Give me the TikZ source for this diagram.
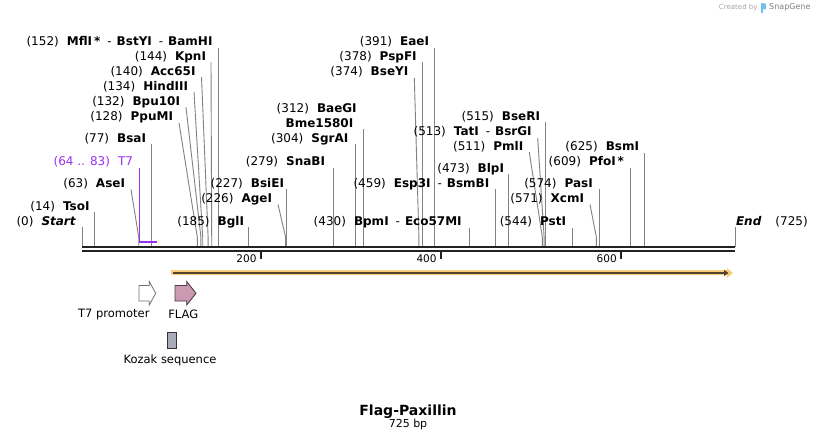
\documentclass[tikz,border=0pt]{standalone}
\usepackage{fontspec}
\setmainfont{DejaVu Sans}
\usetikzlibrary{arrows.meta,positioning}
\definecolor{cutgray}{RGB}{130,130,130}
\definecolor{seqdark}{RGB}{34,34,34}
\definecolor{primerpurple}{RGB}{155,48,240}
\definecolor{orforange}{RGB}{250,205,125}
\definecolor{orfdark}{RGB}{85,68,45}
\definecolor{flagpink}{RGB}{204,153,179}
\definecolor{flagedge}{RGB}{80,60,70}
\definecolor{kozakgray}{RGB}{168,172,182}
\definecolor{logoblue}{RGB}{110,190,240}
\newcommand{\labgap}{\hspace{8pt}}
\newcommand{\cutdash}{\hspace{7pt}-\hspace{5pt}}
\tikzset{
  enz/.style={font=\fontsize{12}{14}\selectfont, inner sep=0pt, outer sep=0pt, anchor=east, text height=9pt, text depth=2pt},
  cutline/.style={draw=cutgray, line width=0.9pt},
  seqline/.style={draw=seqdark, line width=2.5pt},
  tickline/.style={draw=seqdark, line width=2pt},
  ticklabel/.style={font=\fontsize{10.5}{12}\selectfont, inner sep=0pt, anchor=east},
  featlabel/.style={font=\fontsize{11.5}{13}\selectfont, inner sep=0pt},
  orfband/.style={draw=orforange, line width=5pt, -{Triangle[length=6pt,width=9.5pt]}},
  orfcore/.style={draw=orfdark, line width=1.8pt, -{Triangle[length=4.5pt,width=6pt]}},
  promoter/.style={draw=black!55, fill=white, line width=0.8pt},
  flagtag/.style={draw=flagedge, fill=flagpink, line width=0.9pt},
  kozak/.style={draw=black!80, fill=kozakgray, line width=0.9pt}
}
\begin{document}
\begin{tikzpicture}[x=1pt, y=-1pt]
  \path[fill=white, use as bounding box] (0,0) rectangle (818,443);

  % enzyme sites, left to right
  \coordinate (s0) at (82,247);
  \node[enz] (start) at (76,221.7) {(0)\labgap\textbf{\textit{Start}}};
  \draw[cutline] (s0) -- (s0 |- start.south);

  \coordinate (s14) at (94.6,247);
  \node[enz] (tsoI) at (89.5,206.7) {(14)\labgap\textbf{TsoI}};
  \draw[cutline] (s14) -- (s14 |- tsoI.south);

  \coordinate (s63) at (138.7,247);
  \node[enz] (aseI) at (125,184) {(63)\labgap\textbf{AseI}};
  \draw[cutline] ([xshift=6pt]aseI.south east) -- ([yshift=10pt]s63) -- (s63);

  \coordinate (s77) at (151.4,247);
  \node[enz] (bsaI) at (146,139) {(77)\labgap\textbf{BsaI}};
  \draw[cutline] (s77) -- (s77 |- bsaI.south);

  \coordinate (s128) at (197.3,247);
  \node[enz] (ppuMI) at (173,117.3) {(128)\labgap\textbf{PpuMI}};
  \draw[cutline] ([xshift=6pt]ppuMI.south east) -- ([yshift=10pt]s128) -- (s128);

  \coordinate (s132) at (200.9,247);
  \node[enz] (bpu10I) at (180,101.7) {(132)\labgap\textbf{Bpu10I}};
  \draw[cutline] ([xshift=6pt]bpu10I.south east) -- ([yshift=10pt]s132) -- (s132);

  \coordinate (s134) at (202.7,247);
  \node[enz] (hindIII) at (188,86.7) {(134)\labgap\textbf{HindIII}};
  \draw[cutline] ([xshift=6pt]hindIII.south east) -- ([yshift=10pt]s134) -- (s134);

  \coordinate (s140) at (208.1,247);
  \node[enz] (acc65I) at (195.5,71.7) {(140)\labgap\textbf{Acc65I}};
  \draw[cutline] ([xshift=6pt]acc65I.south east) -- ([yshift=10pt]s140) -- (s140);

  \coordinate (s144) at (211.7,247);
  \node[enz] (kpnI) at (206,56.7) {(144)\labgap\textbf{KpnI}};
  \draw[cutline] ([xshift=5pt]kpnI.south east) -- ([yshift=10pt]s144) -- (s144);

  \coordinate (s152) at (218.9,247);
  \node[enz] (mflI) at (212.5,42.3) {(152)\labgap\textbf{MflI\,*}\cutdash\textbf{BstYI}\cutdash\textbf{BamHI}};
  \draw[cutline] (s152) -- (s152 |- mflI.south);

  \coordinate (s185) at (248.6,247);
  \node[enz] (bglI) at (244,221.7) {(185)\labgap\textbf{BglI}};
  \draw[cutline] (s185) -- (s185 |- bglI.south);

  \coordinate (s226) at (285.6,247);
  \node[enz] (ageI) at (272,199) {(226)\labgap\textbf{AgeI}};
  \draw[cutline] ([xshift=6pt]ageI.south east) -- ([yshift=10pt]s226) -- (s226);

  \coordinate (s227) at (286.5,247);
  \node[enz] (bsiEI) at (284,184) {(227)\labgap\textbf{BsiEI}};
  \draw[cutline] (s227) -- (s227 |- bsiEI.south);

  \coordinate (s279) at (333.3,247);
  \node[enz] (snaBI) at (325,162.3) {(279)\labgap\textbf{SnaBI}};
  \draw[cutline] (s279) -- (s279 |- snaBI.south);

  \coordinate (s304) at (355.8,247);
  \node[enz] (sgrAI) at (348.3,139) {(304)\labgap\textbf{SgrAI}};
  \draw[cutline] (s304) -- (s304 |- sgrAI.south);

  \coordinate (s312) at (363,247);
  \node[enz] (baeGI) at (356.7,109) {(312)\labgap\textbf{BaeGI}};
  \node[enz] (bme1580I) at (353.3,124) {\textbf{Bme1580I}};
  \draw[cutline] (s312) -- (s312 |- bme1580I.south);

  \coordinate (s374) at (418.9,247);
  \node[enz] (bseYI) at (408.3,72.3) {(374)\labgap\textbf{BseYI}};
  \draw[cutline] ([xshift=6pt]bseYI.south east) -- ([yshift=10pt]s374) -- (s374);

  \coordinate (s378) at (422.5,247);
  \node[enz] (pspFI) at (416.7,56.7) {(378)\labgap\textbf{PspFI}};
  \draw[cutline] (s378) -- (s378 |- pspFI.south);

  \coordinate (s391) at (434.2,247);
  \node[enz] (eaeI) at (429,42.3) {(391)\labgap\textbf{EaeI}};
  \draw[cutline] (s391) -- (s391 |- eaeI.south);

  \coordinate (s430) at (469.3,247);
  \node[enz] (bpmI) at (461.7,222.3) {(430)\labgap\textbf{BpmI}\cutdash\textbf{Eco57MI}};
  \draw[cutline] (s430) -- (s430 |- bpmI.south);

  \coordinate (s459) at (495.4,247);
  \node[enz] (esp3I) at (489.3,184) {(459)\labgap\textbf{Esp3I}\cutdash\textbf{BsmBI}};
  \draw[cutline] (s459) -- (s459 |- esp3I.south);

  \coordinate (s473) at (508,247);
  \node[enz] (blpI) at (504,169) {(473)\labgap\textbf{BlpI}};
  \draw[cutline] (s473) -- (s473 |- blpI.south);

  \coordinate (s511) at (542.3,247);
  \node[enz] (pmlI) at (523.3,146.7) {(511)\labgap\textbf{PmlI}};
  \draw[cutline] ([xshift=6pt]pmlI.south east) -- ([yshift=10pt]s511) -- (s511);

  \coordinate (s513) at (544.1,247);
  \node[enz] (tatI) at (531.7,132.3) {(513)\labgap\textbf{TatI}\cutdash\textbf{BsrGI}};
  \draw[cutline] ([xshift=6pt]tatI.south east) -- ([yshift=10pt]s513) -- (s513);

  \coordinate (s515) at (545.9,247);
  \node[enz] (bseRI) at (540,116.7) {(515)\labgap\textbf{BseRI}};
  \draw[cutline] (s515) -- (s515 |- bseRI.south);

  \coordinate (s544) at (572,247);
  \node[enz] (pstI) at (566,222.3) {(544)\labgap\textbf{PstI}};
  \draw[cutline] (s544) -- (s544 |- pstI.south);

  \coordinate (s571) at (596.3,247);
  \node[enz] (xcmI) at (584,199) {(571)\labgap\textbf{XcmI}};
  \draw[cutline] ([xshift=6pt]xcmI.south east) -- ([yshift=10pt]s571) -- (s571);

  \coordinate (s574) at (599,247);
  \node[enz] (pasI) at (592.7,184) {(574)\labgap\textbf{PasI}};
  \draw[cutline] (s574) -- (s574 |- pasI.south);

  \coordinate (s609) at (630.5,247);
  \node[enz] (pfoI) at (624,162.3) {(609)\labgap\textbf{PfoI\,*}};
  \draw[cutline] (s609) -- (s609 |- pfoI.south);

  \coordinate (s625) at (644.9,247);
  \node[enz] (bsmI) at (639,147.3) {(625)\labgap\textbf{BsmI}};
  \draw[cutline] (s625) -- (s625 |- bsmI.south);

  \coordinate (s725) at (735,247);
  \node[enz, anchor=west] (end) at (736,221.7) {\textbf{\textit{End}}\hspace{14pt}(725)};
  \draw[cutline] (s725) -- (s725 |- end.south);

  % T7 primer
  \coordinate (s64) at (139.6,242.3);
  \coordinate (s83) at (156.8,242.3);
  \node[enz, text=primerpurple] (t7primer) at (133,162.3) {(64 .. 83)\labgap T7};
  \draw[primerpurple, line width=1.3pt] (s64 |- t7primer.south) -- (s64);
  \draw[primerpurple, line width=2pt] ([xshift=-0.6pt]s64) -- (s83);

  % sequence and ruler
  \draw[seqline] (s0) -- (s725);
  \draw[seqline, line width=2pt] ([yshift=-4.5pt]s0) -- ([yshift=-4.5pt]s725);
  \coordinate (t200) at (261.2,251);
  \coordinate (t400) at (441.3,251);
  \coordinate (t600) at (621.4,251);
  \draw[tickline] (t200) -- ++(0,8);
  \draw[tickline] (t400) -- ++(0,8);
  \draw[tickline] (t600) -- ++(0,8);
  \node[ticklabel] (l200) at ([shift={(-4.5,8)}]t200) {200};
  \node[ticklabel] (l400) at ([shift={(-4.5,8)}]t400) {400};
  \node[ticklabel] (l600) at ([shift={(-4.5,8)}]t600) {600};

  % ORF
  \coordinate (orfstart) at (171,273);
  \coordinate (orfend) at (733,273);
  \draw[orfband] (orfstart) -- (orfend);
  \draw[orfcore] ([xshift=2.3pt]orfstart) -- ([xshift=-4.5pt]orfend);

  % features
  \draw[promoter] (139,285.5) -- (149.3,285.5) -- (149.3,281.5) -- (155.7,293.3)
    -- (149.3,305) -- (149.3,301) -- (139,301) -- cycle;
  \draw[flagtag] (175,285.5) -- (186.7,285.5) -- (186.7,281.5) -- (196,293.3)
    -- (186.7,305) -- (186.7,301) -- (175,301) -- cycle;
  \draw[kozak] (167.3,332.3) rectangle (176.7,348.3);
  \node[featlabel] (t7lbl) at (113.8,314.3) {T7 promoter};
  \node[featlabel] (flaglbl) at (183.3,314.3) {FLAG};
  \node[featlabel] (kozaklbl) at (170,360.7) {Kozak sequence};

  % title
  \node[font=\bfseries\fontsize{14}{16}\selectfont, inner sep=0pt] (title) at (408,412) {Flag-Paxillin};
  \node[font=\fontsize{11}{13}\selectfont, inner sep=0pt, below=0pt of title] (bplen) {725 bp};

  % credit
  \node[font=\fontsize{7}{8}\selectfont, text=black!35, inner sep=0pt, anchor=east] (createdby) at (757.7,7.5) {Created by};
  \fill[logoblue] (761,3.5) rectangle (763.2,13.3);
  \fill[logoblue, rounded corners=1pt] (761,3.5) rectangle (766,9.5);
  \node[font=\fontsize{8}{9}\selectfont, text=black!50, inner sep=0pt, anchor=west] (snapgene) at (769,7.5) {SnapGene};
\end{tikzpicture}
\end{document}
